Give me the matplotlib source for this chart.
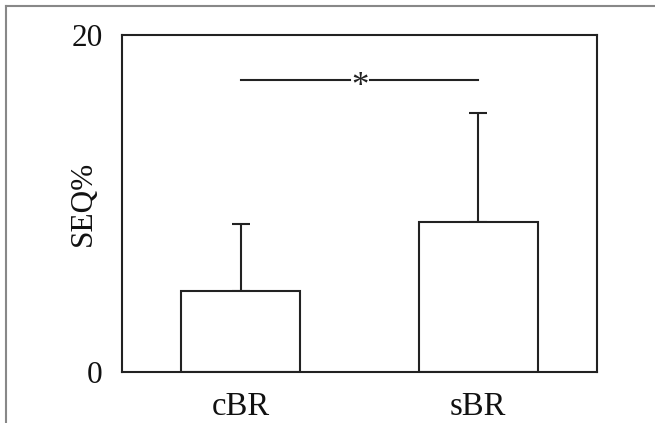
import matplotlib.pyplot as plt
from matplotlib.lines import Line2D
from matplotlib.transforms import offset_copy

groups = ["cBR", "sBR"]
means = [4.8, 8.9]
sds = [4.0, 6.5]
sig_y = 17.35

plt.rcParams['font.family'] = ['Liberation Serif', 'DejaVu Serif']

fig = plt.figure(figsize=(6.55, 4.23), dpi=100)
ax = fig.add_axes([122 / 655, 1 - 372 / 423, 475 / 655, 337 / 423])

x = list(range(len(groups)))
ink = '#222222'
ax.bar(x, means, width=0.5, color='white', edgecolor=ink, linewidth=1.5, zorder=2)
# upper error bars only
ax.errorbar(x, means, yerr=[[0] * len(sds), sds], fmt='none', ecolor=ink,
            elinewidth=1.5, capsize=6.5, capthick=1.5, zorder=1)

# significance bracket with the star sitting in a gap
ax.plot([0, 0.46], [sig_y, sig_y], color=ink, lw=1.5)
ax.plot([0.545, 1], [sig_y, sig_y], color=ink, lw=1.5)
star_tr = offset_copy(ax.transData, fig=fig, x=0, y=-16, units='dots')
ax.text(0.5, sig_y, '*', ha='center', va='baseline', fontsize=25, color=ink,
        transform=star_tr)

ax.set_xlim(-0.5, 1.5)
ax.set_ylim(0, 20)
ax.set_yticks([0, 20])
ax.set_xticks(x)
ax.set_xticklabels(groups)
ax.tick_params(length=0, labelsize=22.5, colors='#111111')
ax.tick_params(axis='x', pad=14, labelsize=23.5)
ax.tick_params(axis='y', pad=14)
ax.set_ylabel('SEQ%', fontsize=22.5, color='#111111')
ax.yaxis.set_label_coords(-0.05, 0.5)
for s in ax.spines.values():
    s.set_linewidth(1.5)
    s.set_color(ink)

# thin grey frame on the top and left edges of the figure
fig.add_artist(Line2D([6 / 655, 1], [1 - 6 / 423] * 2, color='#888888', lw=1.5,
                      transform=fig.transFigure))
fig.add_artist(Line2D([6 / 655] * 2, [0, 1 - 6 / 423], color='#888888', lw=1.5,
                      transform=fig.transFigure))

fig.savefig('out.png', dpi=100)
